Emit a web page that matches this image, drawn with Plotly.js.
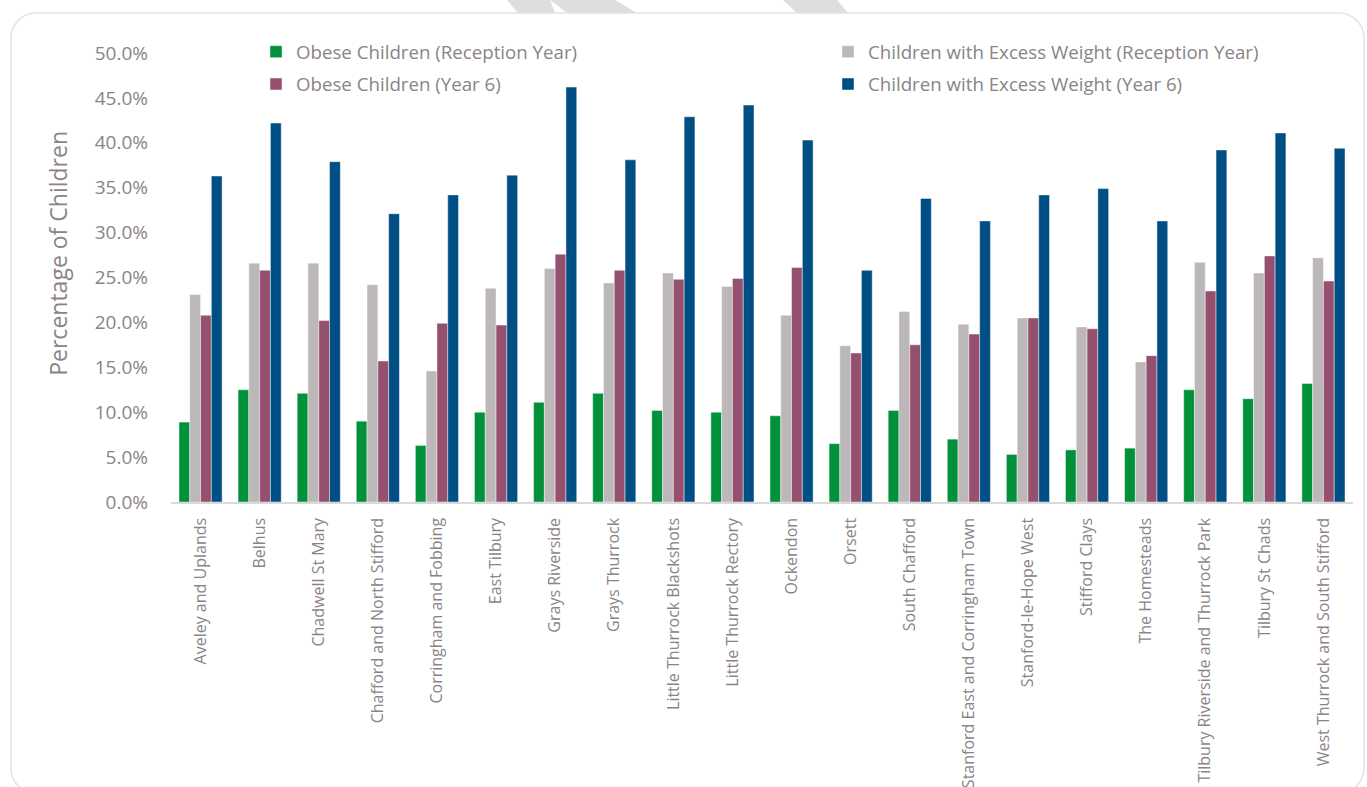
<!DOCTYPE html>
<html>
<head>
<meta charset="utf-8">
<script src="https://cdn.plot.ly/plotly-3.0.1.min.js"></script>
<style>
html,body{margin:0;padding:0;background:#ffffff;}
#chart{width:1367px;height:787px;}
</style>
</head>
<body>
<div id="chart"></div>
<script>
// ---- data ----
const wards = [
  "Aveley and Uplands", "Belhus", "Chadwell St Mary", "Chafford and North Stifford",
  "Corringham and Fobbing", "East Tilbury", "Grays Riverside", "Grays Thurrock",
  "Little Thurrock Blackshots", "Little Thurrock Rectory", "Ockendon", "Orsett",
  "South Chafford", "Stanford East and Corringham Town", "Stanford-le-Hope West",
  "Stifford Clays", "The Homesteads", "Tilbury Riverside and Thurrock Park",
  "Tilbury St Chads", "West Thurrock and South Stifford"
];
const seriesNames = [
  "Obese Children (Reception Year)",
  "Children with Excess Weight (Reception Year)",
  "Obese Children (Year 6)",
  "Children with Excess Weight (Year 6)"
];
const obeseReception  = [8.9, 12.5, 12.1, 9.0, 6.3, 10.0, 11.1, 12.1, 10.2, 10.0, 9.6, 6.5, 10.2, 7.0, 5.3, 5.8, 6.0, 12.5, 11.5, 13.2];
const excessReception = [23.1, 26.6, 26.6, 24.2, 14.6, 23.8, 26.0, 24.4, 25.5, 24.0, 20.8, 17.4, 21.2, 19.8, 20.5, 19.5, 15.6, 26.7, 25.5, 27.2];
const obeseYear6      = [20.8, 25.8, 20.2, 15.7, 19.9, 19.7, 27.6, 25.8, 24.8, 24.9, 26.1, 16.6, 17.5, 18.7, 20.5, 19.3, 16.3, 23.5, 27.4, 24.6];
const excessYear6     = [36.3, 42.2, 37.9, 32.1, 34.2, 36.4, 46.2, 38.1, 42.9, 44.2, 40.3, 25.8, 33.8, 31.3, 34.2, 34.9, 31.3, 39.2, 41.1, 39.4];
const yTickVals = [0, 5, 10, 15, 20, 25, 30, 35, 40, 45, 50];
const yTickText = ["0.0%", "5.0%", "10.0%", "15.0%", "20.0%", "25.0%", "30.0%", "35.0%", "40.0%", "45.0%", "50.0%"];

// ---- style ----
const colors = ["#00913a", "#bcb7b8", "#96506f", "#004f84"];
const legendOf = ["legend", "legend2", "legend", "legend2"];
const textColor = "#8a8486";
const W = 1367, H = 787;
const mL = 171, mR = 14, mT = 53, mB = 284.5;
const pw = W - mL - mR, ph = H - mT - mB;
const px = x => (x - mL) / pw;
const py = y => (H - mB - y) / ph;

const seriesValues = [obeseReception, excessReception, obeseYear6, excessYear6];
const traces = seriesValues.map((vals, i) => ({
  type: "bar",
  name: seriesNames[i],
  legend: legendOf[i],
  legendgroup: "g" + i,
  x: wards,
  y: vals,
  marker: {color: colors[i], line: {color: "rgba(255,255,255,0.55)", width: 0.8}},
  hoverinfo: "skip"
}));

function poly(pts) {
  return "M" + pts.map(p => px(p[0]) + "," + py(p[1])).join(" L") + " Z";
}
function roundRect(x0, y0, x1, y1, r) {
  const k = 0.5523 * r;
  const P = (x, y) => px(x) + "," + py(y);
  return "M" + P(x0 + r, y0) + " L" + P(x1 - r, y0) +
    " C" + P(x1 - r + k, y0) + " " + P(x1, y0 + r - k) + " " + P(x1, y0 + r) +
    " L" + P(x1, y1 - r) +
    " C" + P(x1, y1 - r + k) + " " + P(x1 - r + k, y1) + " " + P(x1 - r, y1) +
    " L" + P(x0 + r, y1) +
    " C" + P(x0 + r - k, y1) + " " + P(x0, y1 - r + k) + " " + P(x0, y1 - r) +
    " L" + P(x0, y0 + r) +
    " C" + P(x0, y0 + r - k) + " " + P(x0 + r - k, y0) + " " + P(x0 + r, y0) + " Z";
}

const shapes = [
  {type: "path", xref: "paper", yref: "paper", layer: "below",
   path: poly([[507, 0], [550, 0], [555, 13], [518, 13]]), fillcolor: "#dedede", line: {width: 0}},
  {type: "path", xref: "paper", yref: "paper", layer: "below",
   path: poly([[550, 0], [615, 0], [637, 13], [567, 13]]), fillcolor: "#dedede", line: {width: 0}},
  {type: "path", xref: "paper", yref: "paper", layer: "below",
   path: poly([[783, 0], [837, 0], [848, 13], [797, 13]]), fillcolor: "#dedede", line: {width: 0}},
  {type: "path", xref: "paper", yref: "paper", layer: "below",
   path: roundRect(11, 13, 1364, 794, 25), fillcolor: "rgba(0,0,0,0)", line: {color: "#e4e4e4", width: 1.6}}
];

const legendFont = {size: 18.7, color: textColor, family: "Open Sans, sans-serif"};
const layout = {
  width: W, height: H,
  margin: {l: mL, r: mR, t: mT, b: mB, pad: 0},
  paper_bgcolor: "rgba(0,0,0,0)",
  plot_bgcolor: "rgba(0,0,0,0)",
  font: {family: "Open Sans, sans-serif", color: textColor},
  barmode: "group",
  bargap: 0.27,
  bargroupgap: 0,
  showlegend: true,
  legend: {
    orientation: "v",
    x: px(256), xanchor: "left",
    y: py(33), yanchor: "top",
    tracegroupgap: 5,
    font: legendFont,
    bgcolor: "rgba(0,0,0,0)"
  },
  legend2: {
    orientation: "v",
    x: px(828), xanchor: "left",
    y: py(33), yanchor: "top",
    tracegroupgap: 5,
    font: legendFont,
    bgcolor: "rgba(0,0,0,0)"
  },
  xaxis: {
    type: "category",
    tickangle: -90,
    tickfont: {size: 16, color: textColor},
    showline: true, linecolor: "#d9d9d9", linewidth: 1.5,
    showgrid: false, zeroline: false,
    ticks: "", ticklabelstandoff: 8,
    automargin: false, fixedrange: true
  },
  yaxis: {
    range: [0, 50],
    tickvals: yTickVals, ticktext: yTickText,
    tickfont: {size: 19, color: textColor},
    showgrid: false, zeroline: false, showline: false,
    ticks: "", ticklabelstandoff: 22,
    automargin: false, fixedrange: true
  },
  annotations: [{
    text: "Percentage of Children",
    xref: "paper", yref: "paper",
    x: px(58), y: py(254),
    xanchor: "center", yanchor: "middle",
    textangle: -90, showarrow: false,
    font: {size: 23, color: textColor, family: "Open Sans, sans-serif"}
  }],
  shapes: shapes,
  hovermode: false
};

Plotly.newPlot("chart", traces, layout, {staticPlot: true, displayModeBar: false});
</script>
</body>
</html>
